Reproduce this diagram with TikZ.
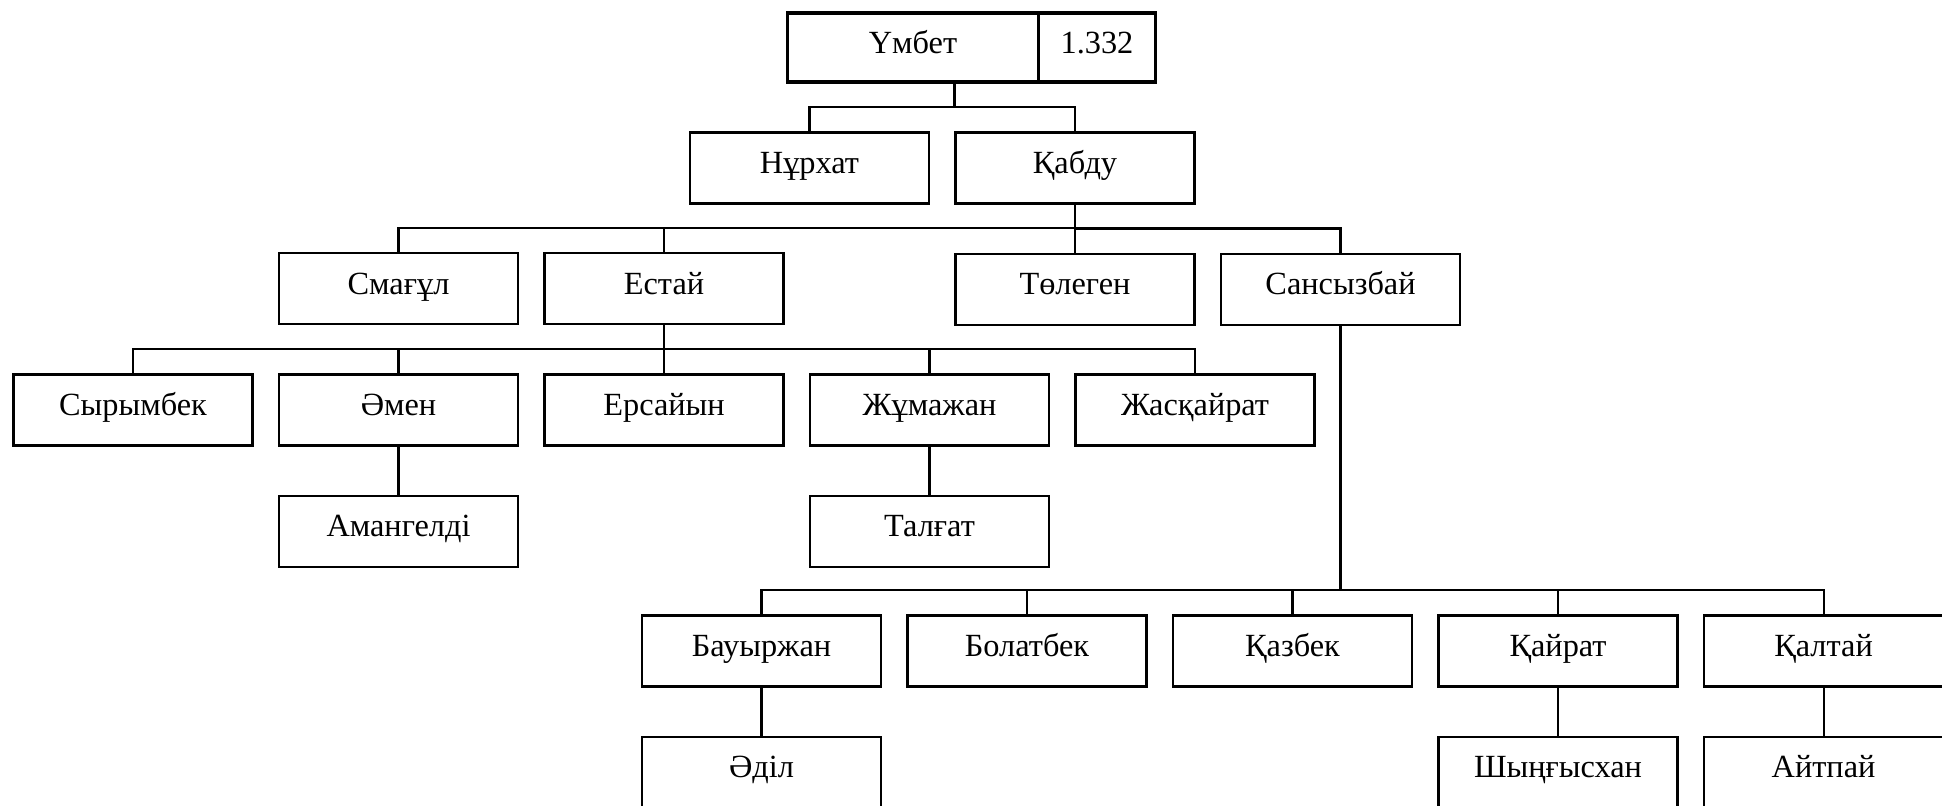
\documentclass[tikz,border=0pt]{standalone}
\usepackage{fontspec}
\setmainfont{Liberation Serif}
\usetikzlibrary{positioning}

\tikzset{
  person/.style={draw,line width=0.6pt,minimum width=23.9mm,minimum height=7.1mm,
    inner sep=0pt,text height=2.3mm,text depth=1.2mm,font=\fontsize{9.2}{11}\selectfont},
  head/.style={person,line width=1.1pt,minimum height=6.9mm},
  link/.style={line width=0.6pt}
}

\begin{document}
\begin{tikzpicture}[x=0.1mm,y=0.1mm,node distance=4.8mm and 2.44mm]
\useasboundingbox (0,0) rectangle (1942,-806);
% root
\node[head,minimum width=25.1mm] (umbet) at (913,-47.7) {Үмбет};
\node[head,minimum width=11.7mm,right=-1.1pt of umbet] (num) {1.332};
% second and third generation
\node[person] (kabdu) at (1075,-168) {Қабду};
\node[person,left=of kabdu] (nurhat) {Нұрхат};
\node[person,below=of kabdu] (tolegen) {Төлеген};
\node[person,right=of tolegen] (sansyzbai) {Сансызбай};
% Естай's line
\node[person] (syrymbek) at (133,-410) {Сырымбек};
\node[person,right=of syrymbek] (omen) {Әмен};
\node[person,right=of omen] (ersaiyn) {Ерсайын};
\node[person,right=of ersaiyn] (zhumazhan) {Жұмажан};
\node[person,right=of zhumazhan] (zhaskairat) {Жасқайрат};
\node[person,above=of omen] (smagul) {Смағұл};
\node[person,above=of ersaiyn] (estai) {Естай};
\node[person,below=of omen] (amangeldi) {Амангелді};
\node[person,below=of zhumazhan] (talgat) {Талғат};
% Сансызбай's line
\node[person] (bauyrzhan) at (761.5,-651) {Бауыржан};
\node[person,right=of bauyrzhan] (bolatbek) {Болатбек};
\node[person,right=of bolatbek] (kazbek) {Қазбек};
\node[person,right=of kazbek] (kairat) {Қайрат};
\node[person,right=of kairat] (kaltai) {Қалтай};
\node[person,below=of bauyrzhan] (adil) {Әділ};
\node[person,below=of kairat] (shyngyskhan) {Шыңғысхан};
\node[person,below=of kaltai] (aitpai) {Айтпай};

% connectors
\foreach \c in {nurhat,kabdu}
  \draw[link] (umbet.south -| kabdu.west) |- ([yshift=2.4mm]\c.north) -- (\c.north);
\foreach \c in {smagul,estai,tolegen,sansyzbai}
  \draw[link] (kabdu.south) |- ([yshift=2.4mm]\c.north) -- (\c.north);
\foreach \c in {syrymbek,omen,ersaiyn,zhumazhan,zhaskairat}
  \draw[link] (estai.south) |- ([yshift=2.4mm]\c.north) -- (\c.north);
\foreach \c in {bauyrzhan,bolatbek,kazbek,kairat,kaltai}
  \draw[link] (sansyzbai.south) |- ([yshift=2.4mm]\c.north) -- (\c.north);
\draw[link] (omen) -- (amangeldi);
\draw[link] (zhumazhan) -- (talgat);
\draw[link] (bauyrzhan) -- (adil);
\draw[link] (kairat) -- (shyngyskhan);
\draw[link] (kaltai) -- (aitpai);
\end{tikzpicture}
\end{document}
